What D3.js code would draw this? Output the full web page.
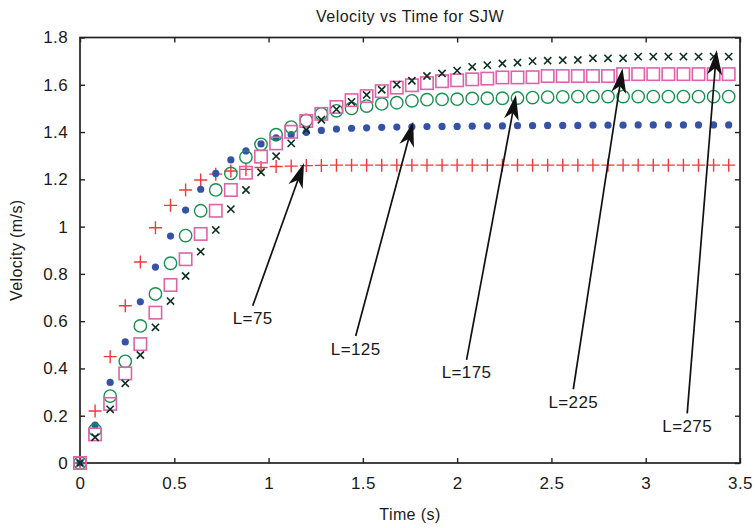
<!DOCTYPE html>
<html>
<head>
<meta charset="utf-8">
<script src="https://cdn.jsdelivr.net/npm/d3@7"></script>
<style>
	body { margin: 0; background: #fff; }
	text { font-family: "Liberation Sans", Arial, Helvetica, sans-serif; fill: #1a1a1a; }
</style>
</head>
<body>
<div id="chart"></div>
<script>
// time samples (s)
const times = [0, 0.08, 0.16, 0.24, 0.32, 0.4, 0.48, 0.56, 0.64, 0.72, 0.8, 0.88, 0.96, 1.04, 1.12, 1.2, 1.28, 1.36, 1.44, 1.52, 1.6, 1.68, 1.76, 1.84, 1.92, 2, 2.08, 2.16, 2.24, 2.32, 2.4, 2.48, 2.56, 2.64, 2.72, 2.8, 2.88, 2.96, 3.04, 3.12, 3.2, 3.28, 3.36, 3.44];

// velocities (m/s)
const velL75 = [0, 0.22, 0.45, 0.665, 0.85, 0.995, 1.09, 1.155, 1.197, 1.222, 1.235, 1.242, 1.25, 1.254, 1.256, 1.258, 1.259,
	1.26, 1.26, 1.26, 1.26, 1.26, 1.26, 1.26, 1.26, 1.26, 1.26, 1.26, 1.26, 1.26, 1.26, 1.26, 1.26, 1.26, 1.26, 1.26, 1.26, 1.26, 1.26, 1.26, 1.26, 1.26, 1.26, 1.26];
const velL125 = [0, 0.16, 0.341, 0.512, 0.682, 0.829, 0.96, 1.07, 1.158, 1.225, 1.282, 1.32, 1.35, 1.376, 1.389, 1.399, 1.407,
	1.413, 1.416, 1.418, 1.42, 1.421, 1.422, 1.423, 1.424, 1.424, 1.425, 1.426, 1.426, 1.427, 1.427, 1.428, 1.428, 1.428, 1.429, 1.429, 1.429, 1.43, 1.43, 1.43, 1.43, 1.43, 1.43, 1.43];
const velL175 = [0, 0.14, 0.283, 0.43, 0.58, 0.715, 0.845, 0.962, 1.067, 1.155, 1.225, 1.294, 1.348, 1.389, 1.421, 1.449, 1.477,
	1.49, 1.5, 1.51, 1.519, 1.524, 1.532, 1.537, 1.538, 1.539, 1.542, 1.543, 1.543, 1.544, 1.546, 1.548, 1.549, 1.55, 1.55, 1.55, 1.55, 1.55, 1.55, 1.55, 1.55, 1.55, 1.55, 1.55];
const velL225 = [0, 0.121, 0.25, 0.379, 0.503, 0.636, 0.753, 0.862, 0.969, 1.067, 1.155, 1.228, 1.296, 1.352, 1.401, 1.447, 1.477,
	1.506, 1.535, 1.552, 1.573, 1.588, 1.598, 1.607, 1.615, 1.619, 1.623, 1.626, 1.631, 1.631, 1.632, 1.637, 1.637, 1.637, 1.637, 1.637, 1.645, 1.645, 1.645, 1.645, 1.645, 1.645, 1.645, 1.645];
const velL275 = [0, 0.109, 0.227, 0.337, 0.457, 0.574, 0.685, 0.791, 0.894, 0.986, 1.074, 1.155, 1.23, 1.298, 1.352, 1.409, 1.452,
	1.496, 1.528, 1.557, 1.579, 1.601, 1.617, 1.637, 1.648, 1.66, 1.676, 1.683, 1.69, 1.694, 1.7, 1.702, 1.704, 1.705, 1.712, 1.712, 1.712, 1.719, 1.719, 1.719, 1.719, 1.719, 1.719, 1.719];

const xTicks = [0, 0.5, 1, 1.5, 2, 2.5, 3, 3.5];
const yTicks = [0, 0.2, 0.4, 0.6, 0.8, 1, 1.2, 1.4, 1.6, 1.8];

// annotation arrows: label, start (t, v) and tip (t, v)
const arrowLabels = ["L=75", "L=125", "L=175", "L=225", "L=275"];
const arrowFrom = [[0.916, 0.665], [1.462, 0.537], [2.05, 0.436], [2.616, 0.312], [3.22, 0.21]];
const arrowTo = [[1.188, 1.269], [1.767, 1.444], [2.312, 1.557], [2.877, 1.67], [3.376, 1.747]];

const width = 755;
const height = 528;
const margin = { top: 37.5, right: 15, bottom: 65, left: 80 };

const svg = d3.select("#chart")
	.append("svg")
	.attr("width", width)
	.attr("height", height);

const x = d3.scaleLinear().domain([0, 3.5]).range([margin.left, width - margin.right]);
const y = d3.scaleLinear().domain([0, 1.8]).range([height - margin.bottom, margin.top]);

const fmt = d3.format("~g");
const fontSize = 17;

// axes, ticks pointing inward on all four sides
const styleAxis = (g) => {
	g.select(".domain").remove();
	g.selectAll(".tick line").attr("stroke", "#222").attr("stroke-width", 1.4);
	g.selectAll(".tick text")
		.attr("fill", "#1a1a1a")
		.style("font-size", fontSize + "px")
		.style("letter-spacing", "0.4px");
};

svg.append("g")
	.attr("transform", `translate(0,${y(0)})`)
	.call(d3.axisBottom(x).tickValues(xTicks).tickFormat(fmt).tickSizeInner(-5).tickSizeOuter(0).tickPadding(14))
	.call(styleAxis);

svg.append("g")
	.attr("transform", `translate(${x(0)},0)`)
	.call(d3.axisLeft(y).tickValues(yTicks).tickFormat(fmt).tickSizeInner(-5).tickSizeOuter(0).tickPadding(12))
	.call(styleAxis);

svg.append("g")
	.attr("transform", `translate(0,${y(1.8)})`)
	.call(d3.axisTop(x).tickValues(xTicks).tickFormat("").tickSizeInner(-5).tickSizeOuter(0))
	.call(styleAxis);

svg.append("g")
	.attr("transform", `translate(${x(3.5)},0)`)
	.call(d3.axisRight(y).tickValues(yTicks).tickFormat("").tickSizeInner(-5).tickSizeOuter(0))
	.call(styleAxis);

// frame
svg.append("rect")
	.attr("x", x(0))
	.attr("y", y(1.8))
	.attr("width", x(3.5) - x(0))
	.attr("height", y(0) - y(1.8))
	.attr("fill", "none")
	.attr("stroke", "#222")
	.attr("stroke-width", 1.7);

const pts = (vals) => vals.map((v, i) => ({ t: times[i], v }));

// L=75 : red plus
svg.append("g")
	.selectAll("path")
	.data(pts(velL75))
	.join("path")
	.attr("d", (d) => `M${x(d.t) - 6.5},${y(d.v)}h13M${x(d.t)},${y(d.v) - 6.5}v13`)
	.attr("stroke", "#f03a3a")
	.attr("stroke-width", 1.4)
	.attr("fill", "none");

// L=125 : blue dots
svg.append("g")
	.selectAll("circle")
	.data(pts(velL125))
	.join("circle")
	.attr("cx", (d) => x(d.t))
	.attr("cy", (d) => y(d.v))
	.attr("r", 3.6)
	.attr("fill", "#3552a8");

// L=175 : green circles
svg.append("g")
	.selectAll("circle")
	.data(pts(velL175))
	.join("circle")
	.attr("cx", (d) => x(d.t))
	.attr("cy", (d) => y(d.v))
	.attr("r", 6.2)
	.attr("fill", "none")
	.attr("stroke", "#17904e")
	.attr("stroke-width", 1.4);

// L=225 : pink squares
svg.append("g")
	.selectAll("rect")
	.data(pts(velL225))
	.join("rect")
	.attr("x", (d) => x(d.t) - 6.2)
	.attr("y", (d) => y(d.v) - 6.2)
	.attr("width", 12.4)
	.attr("height", 12.4)
	.attr("fill", "none")
	.attr("stroke", "#e062a8")
	.attr("stroke-width", 1.6);

// L=275 : dark crosses
svg.append("g")
	.selectAll("path")
	.data(pts(velL275))
	.join("path")
	.attr("d", (d) => {
		const cx = x(d.t), cy = y(d.v), s = 3.6;
		return `M${cx - s},${cy - s}L${cx + s},${cy + s}M${cx - s},${cy + s}L${cx + s},${cy - s}`;
	})
	.attr("stroke", "#0c3020")
	.attr("stroke-width", 1.6)
	.attr("fill", "none");

// arrows with labels
const arrows = svg.append("g");
arrowLabels.forEach((label, i) => {
	const x0 = x(arrowFrom[i][0]), y0 = y(arrowFrom[i][1]);
	const x1 = x(arrowTo[i][0]), y1 = y(arrowTo[i][1]);
	const ang = Math.atan2(y1 - y0, x1 - x0);
	const len = 25, half = 7.5, notch = 18;
	const ux = Math.cos(ang), uy = Math.sin(ang);
	const bx = x1 - ux * len, by = y1 - uy * len;
	const nx = x1 - ux * notch, ny = y1 - uy * notch;

	arrows.append("line")
		.attr("x1", x0).attr("y1", y0)
		.attr("x2", nx).attr("y2", ny)
		.attr("stroke", "#111")
		.attr("stroke-width", 1.7);

	arrows.append("path")
		.attr("d", `M${x1},${y1}L${bx - uy * half},${by + ux * half}L${nx},${ny}L${bx + uy * half},${by - ux * half}Z`)
		.attr("fill", "#111");

	arrows.append("text")
		.attr("x", x0)
		.attr("y", y0 + 18.5)
		.attr("text-anchor", "middle")
		.style("font-size", fontSize + "px")
		.style("letter-spacing", "0.4px")
		.text(label);
});

// title and axis labels
svg.append("text")
	.attr("x", (x(0) + x(3.5)) / 2)
	.attr("y", 22)
	.attr("text-anchor", "middle")
	.style("font-size", "16px")
	.style("letter-spacing", "0.5px")
	.text("Velocity vs Time for SJW");

svg.append("text")
	.attr("x", (x(0) + x(3.5)) / 2)
	.attr("y", 520)
	.attr("text-anchor", "middle")
	.style("font-size", "16px")
	.style("letter-spacing", "0.4px")
	.text("Time (s)");

svg.append("text")
	.attr("transform", `translate(22,${(y(0) + y(1.8)) / 2}) rotate(-90)`)
	.attr("text-anchor", "middle")
	.style("font-size", "16px")
	.style("letter-spacing", "0.4px")
	.text("Velocity (m/s)");
</script>
</body>
</html>
